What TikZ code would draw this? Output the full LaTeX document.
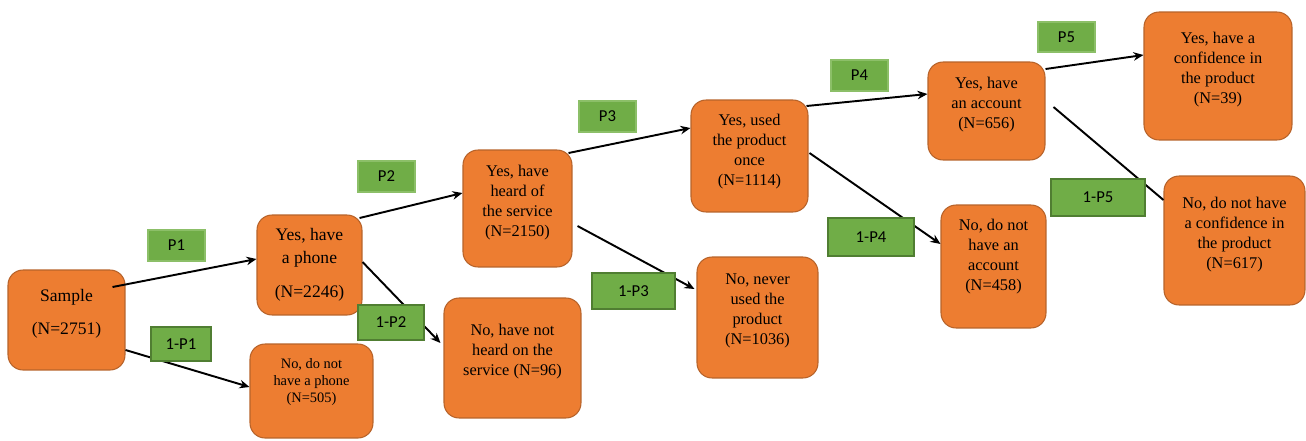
\documentclass[tikz,border=0pt]{standalone}
\usepackage{fontspec}
\setmainfont{Liberation Serif}
\newfontfamily\lblfont{Carlito}
\usetikzlibrary{arrows.meta}
\definecolor{boxorange}{HTML}{ED7D31}
\definecolor{boxedge}{HTML}{B7632A}
\definecolor{lblgreen}{HTML}{70AD47}
\definecolor{lbledge}{HTML}{507E32}
\definecolor{lbledgelight}{HTML}{8CBF68}

\begin{document}
\begin{tikzpicture}[->, >={Stealth[length=0.2cm, width=0.17cm]}, x=0.02cm, y=-0.02cm, line width=1.1pt]
\tikzstyle{box}=[draw=boxedge, fill=boxorange, line width=0.6pt, rounded corners=0.3cm, align=center, inner sep=0pt, text depth=0.32cm, font=\fontsize{9.3}{11.4}\selectfont]
\tikzstyle{bigbox}=[box, font=\fontsize{10}{13}\selectfont]
\tikzstyle{prob}=[draw=lbledgelight, fill=lblgreen, line width=0.6pt, inner sep=0pt, minimum width=1.14cm, minimum height=0.62cm, font=\lblfont\fontsize{9.5}{11}\selectfont]
\tikzstyle{qprob}=[prob, draw=lbledge]
\useasboundingbox (0,0) rectangle (1306,440);
% boxes
\node[bigbox, minimum width=2.34cm, minimum height=2cm, text depth=0.33cm] (sample) at (66.5,320) {Sample\\[5.7pt](N=2751)};
\node[bigbox, minimum width=2.1cm, minimum height=2cm, text depth=0.08cm] (yphone) at (309.5,265) {Yes, have\\a phone\\[6.8pt](N=2246)};
\node[box, minimum width=2.46cm, minimum height=1.88cm, text depth=0.43cm, font=\fontsize{8.2}{9.8}\selectfont] (nphone) at (311.5,391) {No, do not\\have a phone\\(N=505)};
\node[box, minimum width=2.18cm, minimum height=2.34cm] (yheard) at (517.5,208.5) {Yes, have\\heard of\\the service\\(N=2150)};
\node[box, minimum width=2.74cm, minimum height=2.4cm] (nheard) at (512.5,358) {No, have not\\heard on the\\service (N=96)};
\node[box, minimum width=2.34cm, minimum height=2.24cm, text depth=0.24cm] (yused) at (749.5,156) {Yes, used\\the product\\once\\(N=1114)};
\node[box, minimum width=2.42cm, minimum height=2.42cm] (nused) at (757.5,317.5) {No, never\\used the\\product\\(N=1036)};
\node[box, minimum width=2.34cm, minimum height=1.96cm] (yacc) at (986.5,111) {Yes, have\\an account\\(N=656)};
\node[box, minimum width=2.1cm, minimum height=2.46cm, text depth=0.48cm] (nacc) at (993.5,266.5) {No, do not\\have an\\account\\(N=458)};
\node[box, minimum width=2.96cm, minimum height=2.56cm] (yconf) at (1218,76) {Yes, have a\\confidence in\\the product\\(N=39)};
\node[box, minimum width=2.82cm, minimum height=2.58cm] (nconf) at (1234.5,240.5) {No, do not have\\a confidence in\\the product\\(N=617)};
% arrows
\path
([xshift=-0.26cm,yshift=0.66cm]sample.east) edge ([yshift=0.12cm]yphone.west)
([yshift=-0.6cm]sample.east)                edge ([yshift=0.08cm]nphone.west)
([xshift=-0.06cm,yshift=0.94cm]yphone.east) edge ([yshift=0.31cm]yheard.west)
([yshift=0.06cm]yphone.east)                edge ([xshift=-0.06cm,yshift=0.3cm]nheard.west)
([xshift=-0.08cm,yshift=1.11cm]yheard.east) edge ([yshift=0.56cm]yused.west)
([xshift=0.1cm,yshift=-0.35cm]yheard.east)  edge ([xshift=-0.04cm,yshift=0.57cm]nused.west)
([xshift=-0.04cm,yshift=1cm]yused.east)     edge ([yshift=0.34cm]yacc.west)
([xshift=0.02cm,yshift=0.06cm]yused.east)   edge ([yshift=0.45cm]nacc.west)
([yshift=0.84cm]yacc.east)                  edge ([yshift=0.42cm]yconf.west)
([xshift=0.16cm,yshift=0.08cm]yacc.east)    edge[-] ([yshift=0.81cm]nconf.west);
% probabilities
\node[prob]  (p1)  at (176.5,245.5) {P1};
\node[qprob, minimum width=1.2cm, minimum height=0.68cm]  (q1) at (181,344) {1-P1};
\node[prob]  (p2)  at (386.5,176.5) {P2};
\node[qprob, minimum width=1.32cm, minimum height=0.7cm]  (q2) at (391,322.5) {1-P2};
\node[prob]  (p3)  at (607.5,116.5) {P3};
\node[qprob, minimum width=1.66cm, minimum height=0.72cm] (q3) at (633.5,291) {1-P3};
\node[prob]  (p4)  at (859.5,75.5) {P4};
\node[qprob, minimum width=1.72cm, minimum height=0.76cm] (q4) at (871,237) {1-P4};
\node[prob, minimum height=0.6cm] (p5) at (1066.5,37) {P5};
\node[qprob, minimum width=1.88cm, minimum height=0.74cm] (q5) at (1098,197.5) {1-P5};
\end{tikzpicture}
\end{document}
